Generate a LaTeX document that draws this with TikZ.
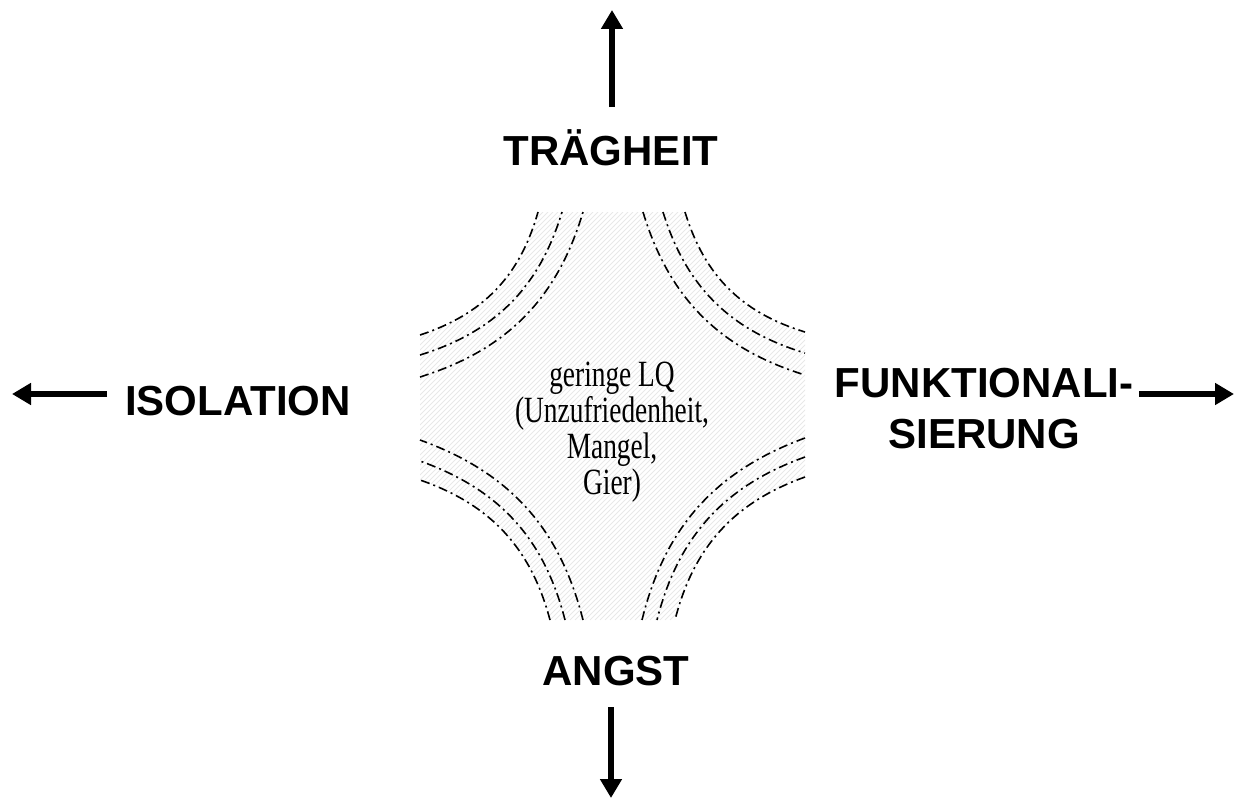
\documentclass[tikz,border=0pt]{standalone}
\usepackage{fontspec}
\setmainfont{Liberation Serif}
\setsansfont{Liberation Sans}
\newfontfamily\lqfont[FakeStretch=0.74]{Liberation Serif}
\usetikzlibrary{arrows.meta}

\begin{document}
\begin{tikzpicture}[x=1pt,y=-1pt,
  pole/.style={font=\fontsize{42}{51}\selectfont\sffamily\bfseries, inner sep=0pt, anchor=base, align=center},
  lqtext/.style={font=\fontsize{37}{36}\selectfont\lqfont, inner sep=0pt, anchor=base, align=center},
  bigarrow/.style={line width=5.5pt, -{Triangle[length=19pt,width=21pt]}},
  lqarc/.style={line width=1.6pt, dash pattern=on 9pt off 4pt on 2pt off 4pt},
  hatch/.style={gray!18, line width=1pt}]

\useasboundingbox (0,0) rectangle (1236,800);

% hatched centre
\begin{scope}
\clip (420,335) to[bend right=28] (538,212) -- (685,212) to[bend right=28] (805,332)
  -- (805,477) to[bend right=28] (675,620) -- (550,620) to[bend right=28] (420,480) -- cycle;
\foreach \s in {630,635,...,1430}
  \draw[hatch] ({\s-620},620) -- ({\s-212},212);
\end{scope}

\foreach \a/\b in {538/335, 562/355, 583/377}
  \draw[lqarc] (420,\b) to[bend right=28] (\a,212);
\foreach \a/\b in {685/332, 663/353, 643/375}
  \draw[lqarc] (\a,212) to[bend right=28] (805,\b);
\foreach \a/\b in {675/477, 657/457, 642/438}
  \draw[lqarc] (805,\b) to[bend right=28] (\a,620);
\foreach \a/\b in {550/480, 565/461, 583/440}
  \draw[lqarc] (\a,620) to[bend right=28] (420,\b);

% base anchor sits on the last line
\node[lqtext] (lq) at (612,494) {geringe LQ\\(Unzufriedenheit,\\Mangel,\\Gier)};

\node[pole] (traeg) at (611,165) {TRÄGHEIT};
\node[pole] (isol) at (238,415) {ISOLATION};
\node[pole] (funkt) at (984,448) {FUNKTIONALI-\\SIERUNG};
\node[pole] (angst) at (616,685) {ANGST};

\coordinate (upS) at (612,107);
\coordinate (upE) at (612,10);
\coordinate (leftS) at (107,394);
\coordinate (leftE) at (12,394);
\coordinate (rightS) at (1139,394);
\coordinate (rightE) at (1234,394);
\coordinate (downS) at (611,707);
\coordinate (downE) at (611,798);

\draw[bigarrow] (upS) -- (upE);
\draw[bigarrow] (leftS) -- (leftE);
\draw[bigarrow] (rightS) -- (rightE);
\draw[bigarrow] (downS) -- (downE);
\end{tikzpicture}
\end{document}
